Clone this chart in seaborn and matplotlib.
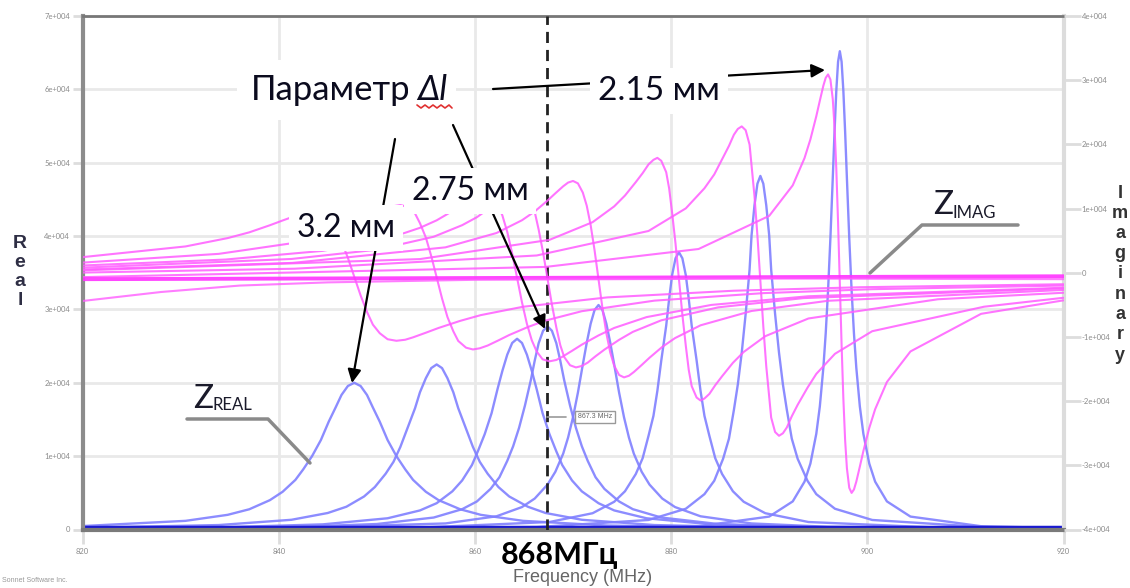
import matplotlib
matplotlib.use("Agg")
import matplotlib.pyplot as plt
import numpy as np
import pandas as pd
import seaborn as sns
from matplotlib.ticker import FuncFormatter
from matplotlib.lines import Line2D
from matplotlib.patches import FancyArrowPatch

# ---------------- data ----------------
# frequency samples (MHz) with real / imaginary impedance for each length value
freq_c1 = [820, 830.5, 834.8, 837.0, 839.1, 840.4, 841.7, 842.5, 843.4, 844.3, 845.1, 845.8, 846.4, 847.05, 847.7, 848.35, 849.0, 849.6, 850.3, 851.1, 852.0, 852.9, 853.7, 855.0, 856.3, 858.5, 860.6, 864.9, 873.5, 886.4, 899.3, 920]
real_c1 = [470, 1180, 2000, 2758, 4000, 5142, 6760, 8196, 10000, 12196, 14700, 16632, 18340, 19560, 20000, 19560, 18340, 16632, 14700, 12196, 10000, 8196, 6760, 5142, 4000, 2758, 2000, 1180, 540, 244, 138, 70]
imag_c1 = [2432, 4100, 5400, 6296, 7400, 8142, 8860, 9236, 9400, 9156, 8220, 6884, 4900, 2334, -600, -3534, -6100, -8084, -9420, -10356, -10600, -10436, -10060, -9342, -8600, -7496, -6600, -5300, -3840, -2800, -2256, -1788]

freq_c2 = [820, 833.9, 841.3, 845.0, 846.9, 848.7, 849.8, 850.9, 851.7, 852.4, 853.1, 853.9, 854.4, 855.0, 855.55, 856.1, 856.65, 857.2, 857.8, 858.3, 859.1, 859.8, 860.5, 861.3, 862.4, 863.5, 865.4, 867.2, 870.9, 878.3, 889.4, 900.5, 920]
real_c2 = [234, 608, 1324, 2250, 3103, 4500, 5785, 7600, 9221, 11250, 13720, 16540, 18711, 20630, 22005, 22500, 22005, 20630, 18711, 16540, 13720, 11250, 9221, 7600, 5785, 4500, 3103, 2250, 1324, 608, 274, 155, 75]
imag_c2 = [1580, 2945, 4588, 6050, 7058, 8300, 9135, 9940, 10366, 10550, 10276, 9220, 7720, 5490, 2601, -700, -4001, -6890, -9120, -10620, -11676, -11950, -11766, -11340, -10535, -9700, -8458, -7450, -5990, -4345, -3175, -2563, -1996]

freq_c3 = [820, 834.6, 844.5, 851.1, 854.4, 856.1, 857.7, 858.7, 859.7, 860.3, 861.0, 861.7, 862.3, 862.8, 863.3, 863.8, 864.3, 864.8, 865.3, 865.8, 866.3, 866.9, 867.6, 868.3, 868.9, 869.9, 870.9, 872.6, 874.2, 877.5, 884.1, 894.0, 920]
real_c3 = [144, 317, 702, 1530, 2600, 3585, 5200, 6685, 8790, 10655, 13000, 15855, 19110, 21622, 23840, 25428, 26000, 25428, 23840, 21622, 19110, 15855, 13000, 10655, 8790, 6685, 5200, 3585, 2600, 1530, 702, 317, 91]
imag_c3 = [1129, 2060, 3412, 5310, 7000, 8165, 9600, 10565, 11500, 11987, 12200, 11883, 10670, 8929, 6350, 3014, -800, -4614, -7950, -10529, -12270, -13483, -13800, -13587, -13100, -12165, -11200, -9765, -8600, -6910, -5012, -3660, -2334]

freq_c4 = [820, 841.3, 850.0, 855.8, 858.7, 860.2, 861.6, 862.5, 863.3, 863.9, 864.5, 865.1, 865.7, 866.1, 866.5, 866.95, 867.4, 867.85, 868.3, 868.7, 869.1, 869.7, 870.3, 870.9, 871.5, 872.3, 873.2, 874.7, 876.1, 879.0, 884.8, 893.5, 920]
real_c4 = [104, 338, 748, 1630, 2770, 3820, 5540, 7122, 9360, 11351, 13850, 16891, 20360, 23035, 25400, 27091, 27700, 27091, 25400, 23035, 20360, 16891, 13850, 11351, 9360, 7122, 5540, 3820, 2770, 1630, 748, 338, 84]
imag_c4 = [793, 2147, 3587, 5610, 7410, 8651, 10180, 11208, 12200, 12723, 12950, 12612, 11320, 9465, 6720, 3164, -900, -4964, -8520, -11265, -13120, -14412, -14750, -14523, -14000, -13008, -11980, -10451, -9210, -7410, -5390, -3950, -2426]

freq_c5 = [820, 841.4, 857.0, 862.2, 864.8, 866.1, 867.4, 868.2, 869.0, 869.5, 870.0, 870.5, 871.0, 871.4, 871.8, 872.2, 872.6, 873.0, 873.4, 873.8, 874.2, 874.7, 875.2, 875.7, 876.2, 877.0, 877.8, 879.1, 880.4, 883.0, 888.2, 896.0, 920]
real_c5 = [75, 211, 826, 1800, 3060, 4220, 6120, 7867, 10340, 12540, 15300, 18660, 22490, 25447, 28060, 29927, 30600, 29927, 28060, 25447, 22490, 18660, 15300, 12540, 10340, 7867, 6120, 4220, 3060, 1800, 826, 373, 92]
imag_c5 = [512, 1534, 3957, 6191, 8180, 9551, 11240, 12375, 13470, 14049, 14300, 13927, 12490, 10451, 7415, 3489, -1000, -5489, -9415, -12451, -14490, -15927, -16300, -16049, -15470, -14375, -13240, -11551, -10180, -8190, -5957, -4366, -2677]

freq_c6 = [820, 854.4, 867.6, 872.0, 874.2, 875.3, 876.4, 877.1, 877.7, 878.2, 878.6, 879.0, 879.5, 879.8, 880.1, 880.45, 880.8, 881.15, 881.5, 881.8, 882.1, 882.6, 883.0, 883.4, 883.9, 884.5, 885.2, 886.3, 887.4, 889.6, 894.0, 907.2, 920]
real_c6 = [50, 261, 1020, 2220, 3780, 5213, 7560, 9718, 12780, 15490, 18900, 23050, 27780, 31434, 34660, 36968, 37800, 36968, 34660, 31434, 27780, 23050, 18900, 15490, 12780, 9718, 7560, 5213, 3780, 2220, 1020, 261, 119]
imag_c6 = [368, 2130, 5124, 7883, 10340, 12033, 14120, 15522, 16880, 17590, 17900, 17439, 15670, 13145, 9400, 4545, -1000, -6545, -11400, -15145, -17670, -19439, -19900, -19590, -18880, -17522, -16120, -14033, -12340, -9883, -7124, -4130, -3117]

freq_c7 = [820, 841.6, 866.3, 877.7, 881.5, 883.4, 884.4, 885.3, 885.9, 886.4, 886.8, 887.2, 887.6, 888.0, 888.2, 888.5, 888.8, 889.1, 889.4, 889.7, 890.0, 890.2, 890.6, 891.0, 891.4, 891.8, 892.3, 892.9, 893.9, 894.8, 896.7, 900.5, 911.9, 920]
real_c7 = [36, 77, 333, 1300, 2830, 4820, 6647, 9640, 12392, 16290, 19752, 24100, 29392, 35430, 40083, 44200, 47140, 48200, 47140, 44200, 40083, 35430, 29392, 24100, 19752, 16290, 12392, 9640, 6647, 4820, 2830, 1300, 333, 181]
imag_c7 = [25, 628, 2691, 6508, 10030, 13160, 15319, 17980, 19768, 21500, 22405, 22800, 22212, 19960, 16736, 11960, 5771, -1300, -8371, -14560, -19336, -22560, -24812, -25400, -25005, -24100, -22368, -20580, -17919, -15760, -12630, -9108, -5291, -3900]

freq_c8 = [820, 867.2, 882.8, 890.0, 892.4, 893.6, 894.2, 894.8, 895.16, 895.52, 895.76, 896.0, 896.24, 896.48, 896.66, 896.84, 897.02, 897.2, 897.38, 897.56, 897.74, 897.92, 898.16, 898.4, 898.64, 898.88, 899.24, 899.6, 900.2, 900.8, 902.0, 904.4, 911.6, 920]
real_c8 = [16, 104, 450, 1760, 3830, 6520, 8991, 13040, 16763, 22040, 26719, 32600, 39759, 47920, 54220, 59790, 63766, 65200, 63766, 59790, 54220, 47920, 39759, 32600, 26719, 22040, 16763, 13040, 8991, 6520, 3830, 1760, 450, 180]
imag_c8 = [-683, 908, 3699, 8860, 13620, 17860, 20781, 24380, 26799, 29140, 30365, 30900, 30105, 27050, 22698, 16230, 7865, -1700, -11265, -19630, -26098, -30450, -33505, -34300, -33765, -32540, -30199, -27780, -24181, -21260, -17020, -12260, -6400, -4300]

# nearly flat traces
freq_flat = [820, 870, 920]
real_flat = [300, 300, 300]
imag_flat = [-1000, -780, -550]
freq_low = [820, 828, 836, 845, 860, 890, 920]
imag_low = [-4400, -3000, -2000, -1500, -1100, -900, -1000]

marker_freq = 867.3
x_ticks = [820, 840, 860, 880, 900, 920]
left_ticks = [0, 10000, 20000, 30000, 40000, 50000, 60000, 70000]
right_ticks = [-40000, -30000, -20000, -10000, 0, 10000, 20000, 30000, 40000]

curves = [
    ("3.2", freq_c1, real_c1, imag_c1),
    ("c2", freq_c2, real_c2, imag_c2),
    ("c3", freq_c3, real_c3, imag_c3),
    ("2.75", freq_c4, real_c4, imag_c4),
    ("c5", freq_c5, real_c5, imag_c5),
    ("c6", freq_c6, real_c6, imag_c6),
    ("c7", freq_c7, real_c7, imag_c7),
    ("2.15", freq_c8, real_c8, imag_c8),
]

rows = []
for name, f, r, im in curves:
    for fi, ri, ii in zip(f, r, im):
        rows.append((fi, ri, ii, name))
df = pd.DataFrame(rows, columns=["freq", "real", "imag", "curve"])
df_flat = pd.DataFrame({"freq": freq_flat, "real": real_flat, "imag": imag_flat})
df_low = pd.DataFrame({"freq": freq_low, "imag": imag_low})

# ---------------- styling ----------------
sns.set_theme(style="white")
plt.rcParams["font.family"] = ["Lato", "Open Sans", "DejaVu Sans"]

W, H = 1130, 588
fig = plt.figure(figsize=(W / 100, H / 100), dpi=100)
fig.patch.set_facecolor("white")
ax = fig.add_axes([82.5 / W, 1 - 529.5 / H, 981 / W, 513.5 / H])
ax2 = ax.twinx()

BLUE = "#8080ff"
MAG = "#ff5cff"

sns.lineplot(data=df, x="freq", y="real", units="curve", estimator=None,
             color=BLUE, lw=1.7, alpha=0.9, ax=ax, legend=False)
sns.lineplot(data=df_flat, x="freq", y="real", color="#1a1ad0", lw=2.5, ax=ax, legend=False)

sns.lineplot(data=df, x="freq", y="imag", units="curve", estimator=None,
             color=MAG, lw=1.5, alpha=0.85, ax=ax2, legend=False)
sns.lineplot(data=df_flat, x="freq", y="imag", color="#ff33ff", lw=2.8, alpha=0.9, ax=ax2, legend=False)
sns.lineplot(data=df_low, x="freq", y="imag", color=MAG, lw=1.5, alpha=0.8, ax=ax2, legend=False)

ax.axvline(marker_freq, color="#222222", lw=2, ls=(0, (4, 2.5)), zorder=5)

ax.set_xlim(820, 920)
ax.set_ylim(0, 70000)
ax2.set_ylim(-40000, 40000)
ax.set_xticks(x_ticks)
ax.set_xticklabels([str(t) for t in x_ticks])
ax.set_yticks(left_ticks)
ax2.set_yticks(right_ticks)
fmt = FuncFormatter(lambda v, p: "0" if v == 0 else f"{int(round(v / 1e4))}e+004")
ax.yaxis.set_major_formatter(fmt)
ax2.yaxis.set_major_formatter(fmt)

ax.grid(True, color="#e9e9e9", lw=2)
ax2.grid(False)
ax.set_axisbelow(True)

ax.tick_params(axis="x", length=10, width=2, color="#dddddd", labelsize=5.5,
               labelcolor="#8a8a8a", pad=3, bottom=True)
ax.tick_params(axis="y", length=7, width=2, color="#dddddd", labelsize=5.5,
               labelcolor="#8a8a8a", pad=2, left=True)
ax2.tick_params(axis="y", length=12, width=2, color="#dddddd", labelsize=5.5,
                labelcolor="#8a8a8a", pad=1, right=True)

for s in ["left", "bottom", "top", "right"]:
    ax2.spines[s].set_visible(False)
ax.spines["left"].set_color("#8c8c8c"); ax.spines["left"].set_linewidth(3)
ax.spines["bottom"].set_color("#7a7a7a"); ax.spines["bottom"].set_linewidth(3)
ax.spines["top"].set_color("#777777"); ax.spines["top"].set_linewidth(2)
ax.spines["right"].set_color("#dcdcdc"); ax.spines["right"].set_linewidth(3)

ax.set_xlabel("Frequency (MHz)", family=["Liberation Sans", "DejaVu Sans"],
              fontsize=13, color="#666666")
ax.xaxis.set_label_coords(0.51, (529.5 - 578) / 513.5)
ax.xaxis.label.set_va("center")
ax.set_ylabel("R\ne\na\nl", rotation=0, family=["Liberation Sans", "DejaVu Sans"],
              fontsize=14, fontweight="bold", color="#2e2e44", linespacing=1.15, va="center")
ax.yaxis.set_label_coords((20 - 82.5) / 981, (529.5 - 272) / 513.5)
ax2.set_ylabel("I\nm\na\ng\ni\nn\na\nr\ny", rotation=0, family=["Liberation Sans", "DejaVu Sans"],
               fontsize=13, fontweight="bold", color="#333333", linespacing=1.25, va="center")
ax2.yaxis.set_label_coords((1120 - 82.5) / 981, (529.5 - 274) / 513.5)


def P(x, y):
    return (x / W, 1 - y / H)


# arrows
for a, b in [((493, 89), (825, 70)), ((395, 139), (352, 383)), ((453, 125), (545, 329))]:
    fig.add_artist(FancyArrowPatch(P(*a), P(*b), transform=fig.transFigure,
                                   arrowstyle="-|>", mutation_scale=20, color="black",
                                   lw=1.6, shrinkA=0, shrinkB=0, zorder=4))

TXT = "#0b0b1e"
box = dict(boxstyle="square,pad=0.25", fc="white", ec="none")
fig.text(*P(251, 100), "Параметр", fontsize=25, color=TXT, ha="left", va="baseline",
         bbox=dict(boxstyle="square,pad=0.4", fc="white", ec="none"), zorder=6)
fig.text(*P(417, 100), "Δl", fontsize=25, color=TXT, ha="left", va="baseline",
         style="italic", bbox=box, zorder=6)
fig.add_artist(Line2D([p / W for p in [417, 421, 425, 429, 433, 437, 441, 445, 449, 452]],
                      [1 - p / H for p in [105, 108, 105, 108, 105, 108, 105, 108, 105, 108]],
                      transform=fig.transFigure, color="#e03030", lw=1.2, zorder=7))
fig.text(*P(659, 100), "2.15 мм", fontsize=24, color=TXT, ha="center", va="baseline",
         bbox=box, zorder=6)
fig.text(*P(346, 237), "3.2 мм", fontsize=23, color=TXT, ha="center", va="baseline",
         bbox=box, zorder=6)
fig.text(*P(470, 200), "2.75 мм", fontsize=23, color=TXT, ha="center", va="baseline",
         bbox=box, zorder=6)

# Z labels with leader lines
GREY = "#8a8a8a"
fig.add_artist(Line2D([187 / W, 268 / W, 310 / W], [1 - 419 / H, 1 - 419 / H, 1 - 463 / H],
                      transform=fig.transFigure, color=GREY, lw=2.5, zorder=4))
fig.text(*P(193, 408), "Z", fontsize=24, color="#1a1a2a", ha="left", va="baseline", zorder=6)
fig.text(*P(213, 410), "REAL", fontsize=12, color="#1a1a2a", ha="left", va="baseline", zorder=6)
fig.add_artist(Line2D([1018 / W, 922 / W, 870 / W], [1 - 225 / H, 1 - 225 / H, 1 - 273 / H],
                      transform=fig.transFigure, color=GREY, lw=2.5, zorder=4))
fig.text(*P(933, 214), "Z", fontsize=24, color="#1a1a2a", ha="left", va="baseline", zorder=6)
fig.text(*P(953, 218), "IMAG", fontsize=12, color="#1a1a2a", ha="left", va="baseline", zorder=6)

# marker label
fig.add_artist(Line2D([547 / W, 566 / W], [1 - 417 / H, 1 - 417 / H],
                      transform=fig.transFigure, color="#999999", lw=1.2, zorder=4))
fig.text(*P(595, 417), "867.3 MHz", fontsize=5, color="#666666", ha="center", va="center",
         family=["Liberation Sans", "DejaVu Sans"],
         bbox=dict(boxstyle="square,pad=0.4", fc="white", ec="#999999", lw=1), zorder=6)

fig.text(*P(560, 555), "868МГц", fontsize=22, fontweight="bold", color="black",
         ha="center", va="center", zorder=6)
fig.text(*P(2, 580), "Sonnet Software Inc.", fontsize=5, color="#999999",
         ha="left", va="center", family=["Liberation Sans", "DejaVu Sans"])

fig.savefig("out.png", dpi=100, facecolor="white")
